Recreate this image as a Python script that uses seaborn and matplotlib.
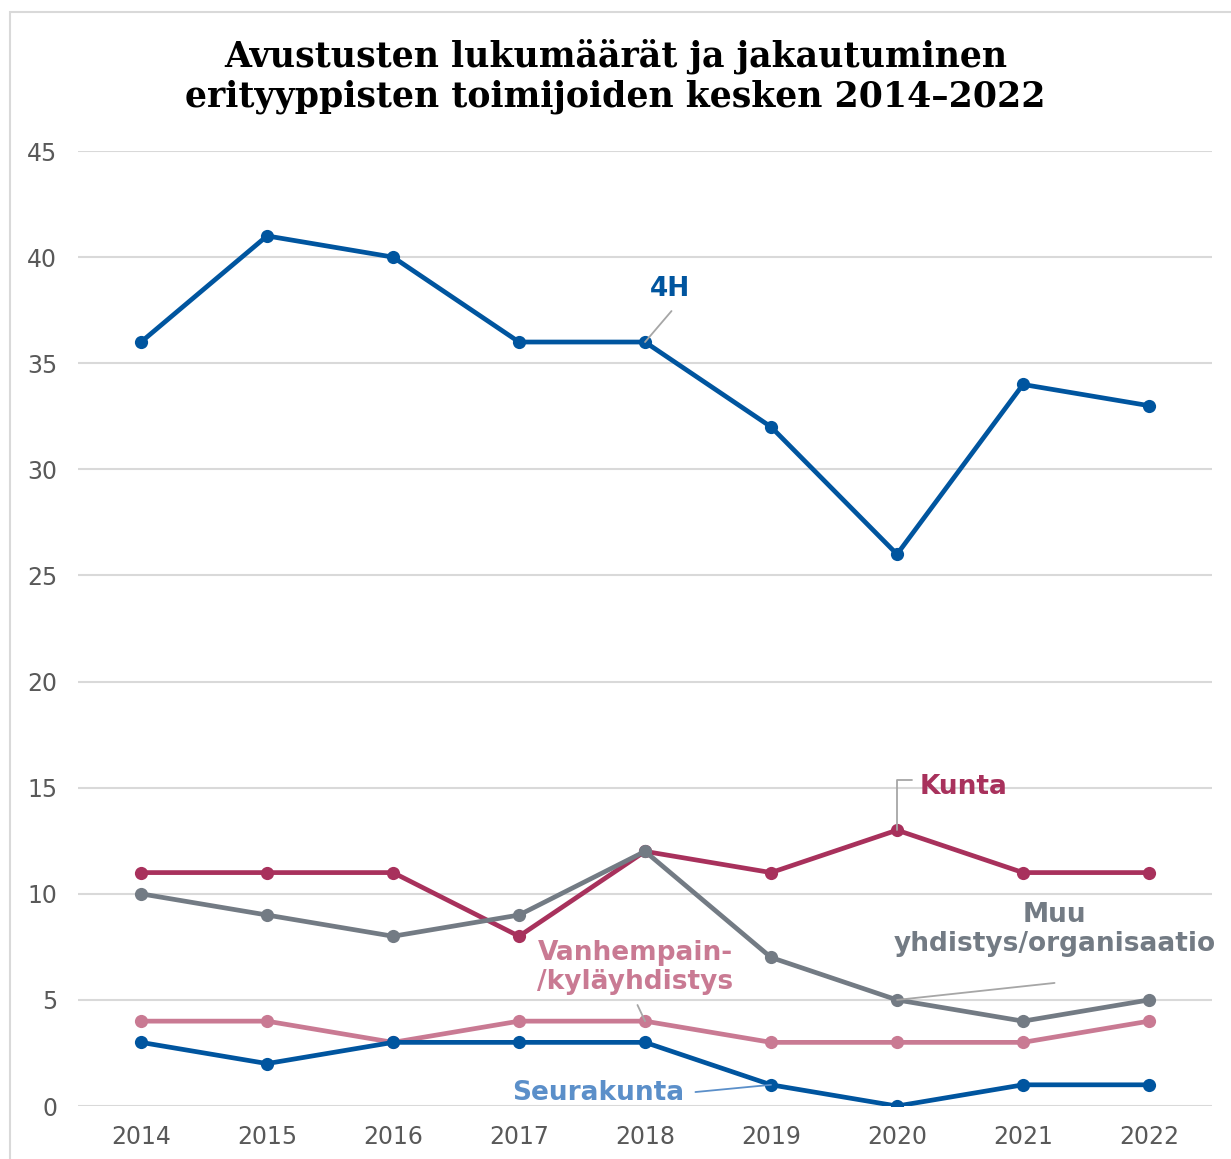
import pandas as pd
import matplotlib.pyplot as plt
import seaborn as sns
from matplotlib.patches import Rectangle

# data
years = ['2014', '2015', '2016', '2017', '2018', '2019', '2020', '2021', '2022']
h4 = [36, 41, 40, 36, 36, 32, 26, 34, 33]
kunta = [11, 11, 11, 8, 12, 11, 13, 11, 11]
muu = [10, 9, 8, 9, 12, 7, 5, 4, 5]
vanhempain = [4, 4, 3, 4, 4, 3, 3, 3, 4]
seurakunta = [3, 2, 3, 3, 3, 1, 0, 1, 1]

series = {'4H': h4, 'Kunta': kunta, 'Muu': muu,
          'Vanhempain': vanhempain, 'Seurakunta': seurakunta}
colors = {'4H': '#00559F', 'Kunta': '#A8315C', 'Muu': '#737B84',
          'Vanhempain': '#C97A93', 'Seurakunta': '#00559F'}

df = pd.DataFrame([(name, i, v) for name, vals in series.items()
                   for i, v in enumerate(vals)],
                  columns=['toimija', 'x', 'maara'])

sns.set_theme(style='white')
plt.rcParams['font.family'] = ['DejaVu Sans']

fig = plt.figure(figsize=(12.31, 11.59), dpi=100)
ax = fig.add_axes([0.0634, 0.0457, 0.9212, 0.824])

sns.lineplot(data=df, x='x', y='maara', hue='toimija', palette=colors,
             marker='o', markersize=9.5, markeredgewidth=0, linewidth=3.4,
             legend=False, ax=ax, zorder=3)

ax.set_xlim(-0.5, 8.5)
ax.set_ylim(0, 45)
ax.set_yticks(range(0, 46, 5))
ax.set_xticks(range(len(years)))
ax.set_xticklabels(years)
ax.set_xlabel('')
ax.set_ylabel('')
ax.grid(axis='y', color='#D9D9D9', linewidth=1.5)
ax.set_axisbelow(True)
for s in ax.spines.values():
    s.set_visible(False)
ax.tick_params(axis='both', length=0, labelsize=17, labelcolor='#595959')
ax.tick_params(axis='y', pad=15)
ax.tick_params(axis='x', pad=14)

# labels and leader lines
fs = 19
lead = dict(color='#A6A6A6', linewidth=1.3, zorder=4)
ax.text(4.2, 38.5, '4H', color='#00559F', fontsize=fs, fontweight='bold',
        ha='center', va='center')
ax.plot([4.0, 4.21], [36, 37.46], **lead)

ax.text(6.18, 15.03, 'Kunta', color='#A8315C', fontsize=fs, fontweight='bold',
        ha='left', va='center')
ax.plot([6.0, 6.0, 6.12], [13, 15.36, 15.36], **lead)

ax.text(7.25, 8.3, 'Muu\nyhdistys/organisaatio', color='#737B84', fontsize=fs,
        fontweight='bold', ha='center', va='center', linespacing=1.15)
ax.plot([6.0, 7.25], [5, 5.8], **lead)

ax.text(3.92, 6.55, 'Vanhempain-\n/kyläyhdistys', color='#C97A93', fontsize=fs,
        fontweight='bold', ha='center', va='center', linespacing=1.15)
ax.plot([4.0, 3.94], [4, 4.76], **lead)

ax.text(3.63, 0.61, 'Seurakunta', color='#5B8FC9', fontsize=fs,
        fontweight='bold', ha='center', va='center')
ax.plot([4.4, 5.0], [0.66, 1.0], color='#5B8FC9', linewidth=1.3, zorder=4)

fig.text(0.5, 0.934, 'Avustusten lukumäärät ja jakautuminen\n'
         'erityyppisten toimijoiden kesken 2014–2022',
         ha='center', va='center', fontsize=25, fontweight='bold',
         family='DejaVu Serif', color='black', linespacing=1.2)

# light frame around the chart
fig.patches.append(Rectangle((10 / 1231, -0.1), 1.2, 1 - 12 / 1159 + 0.1,
                             transform=fig.transFigure, fill=False,
                             edgecolor='#D9D9D9', linewidth=1.5))

fig.savefig('out.png', dpi=100)
